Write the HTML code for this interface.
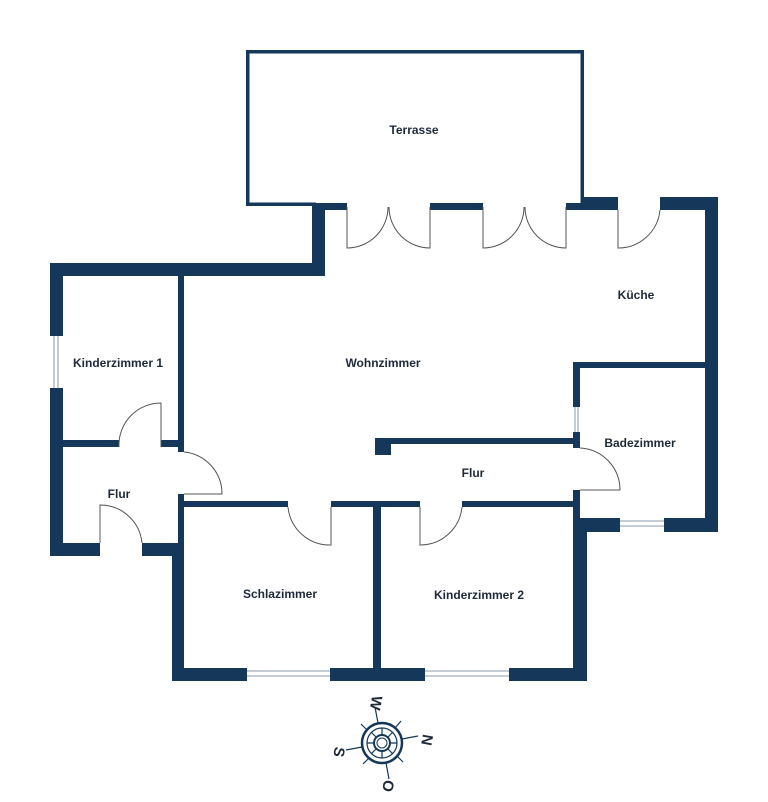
<!DOCTYPE html>
<html><head><meta charset="utf-8"><style>
html,body{margin:0;padding:0;background:#fff;}
svg{display:block;}
text{font-family:"Liberation Sans",sans-serif;font-weight:bold;font-size:12px;fill:#1e2a3a;text-anchor:middle;}
</style></head><body>
<svg width="768" height="802" viewBox="0 0 768 802" xmlns="http://www.w3.org/2000/svg">
<g fill="#15385a">
<rect x="246" y="50" width="338" height="3.5"/>
<rect x="246" y="50" width="3.5" height="156"/>
<rect x="580.5" y="50" width="3.5" height="156"/>
<rect x="246" y="202.5" width="70" height="3.5"/>
<rect x="312" y="203" width="35" height="7"/>
<rect x="312" y="203" width="13" height="73"/>
<rect x="430" y="203" width="53" height="7"/>
<rect x="566" y="203" width="52" height="7"/>
<rect x="581" y="197" width="37" height="13"/>
<rect x="660" y="197" width="58" height="13"/>
<rect x="705" y="197" width="13" height="335"/>
<rect x="50" y="263" width="275" height="13"/>
<rect x="50" y="263" width="13" height="73"/>
<rect x="50" y="388" width="13" height="168"/>
<rect x="178" y="276" width="6" height="176"/>
<rect x="178" y="494" width="6" height="62"/>
<rect x="63" y="440" width="56" height="7"/>
<rect x="161" y="440" width="17" height="7"/>
<rect x="50" y="543" width="50" height="13"/>
<rect x="142" y="543" width="42" height="13"/>
<rect x="172" y="543" width="12" height="138"/>
<rect x="184" y="501" width="104" height="6"/>
<rect x="331" y="501" width="89" height="6"/>
<rect x="462" y="501" width="118" height="6"/>
<rect x="373" y="501" width="8" height="180"/>
<rect x="172" y="668" width="75" height="13"/>
<rect x="330" y="668" width="95" height="13"/>
<rect x="509" y="668" width="78" height="13"/>
<rect x="573" y="490" width="7" height="42"/>
<rect x="573" y="522" width="14" height="159"/>
<rect x="580" y="518" width="40" height="14"/>
<rect x="664" y="518" width="54" height="14"/>
<rect x="573" y="362" width="132" height="6"/>
<rect x="573" y="362" width="7" height="45"/>
<rect x="573" y="432" width="7" height="16"/>
<rect x="375" y="438" width="205" height="6"/>
<rect x="375" y="438" width="16" height="17"/>
</g>
<g fill="none" stroke="#8a9aab" stroke-width="1">
<path d="M54 336V388M58 336V388"/>
<path d="M247 671H330M247 676H330"/>
<path d="M425 671H509M425 676H509"/>
<path d="M620 521H664M620 526H664"/>
<path d="M575 407V432M578 407V432"/>
</g>
<g fill="none" stroke="#555" stroke-width="1">
<path d="M347 207V248A41 41 0 0 0 388 207"/>
<path d="M430 207V248A41 41 0 0 1 389 207"/>
<path d="M483 207V248A41 41 0 0 0 524 207"/>
<path d="M566 207V248A41 41 0 0 1 525 207"/>
<path d="M618 210V248A42 42 0 0 0 660 210"/>
<path d="M161 447V403A42 42 0 0 0 119 447"/>
<path d="M100 543V505A42 42 0 0 1 142 543"/>
<path d="M184 452A42 42 0 0 1 222 494H184"/>
<path d="M331 507V545A42 42 0 0 1 288 507"/>
<path d="M420 507V545A42 42 0 0 0 462 507"/>
<path d="M580 448A42 42 0 0 1 620 490H580"/>
</g>
<text x="414" y="134">Terrasse</text>
<text x="636" y="299">Küche</text>
<text x="383" y="367">Wohnzimmer</text>
<text x="118" y="367">Kinderzimmer 1</text>
<text x="640" y="447">Badezimmer</text>
<text x="473" y="477">Flur</text>
<text x="119" y="498">Flur</text>
<text x="280" y="598">Schlazimmer</text>
<text x="479" y="599">Kinderzimmer 2</text>
<g transform="translate(382,743)" stroke="#15385a" fill="none">
<circle r="20" stroke-width="2.5"/>
<circle r="15" stroke-width="1.2"/>
<circle r="8" stroke-width="2"/>
<circle r="5" stroke-width="1"/>
<g stroke-width="1.2">
<path d="M-4 -20L-7 -36M20 -4L36 -7M4 20L7 36M-20 4L-36 7"/>
<path d="M13 -15L19 -22M15 13L21 19M-13 15L-19 21M-15 -13L-21 -19"/>
<path d="M0 -8V-15M8 0H15M0 8V15M-8 0H-15M6 -6L11 -11M6 6L11 11M-6 6L-11 11M-6 -6L-11 -11"/>
</g>
</g>
<g>
<text style="font-size:15px" transform="translate(376,703) rotate(100)" dy="5">W</text>
<text style="font-size:15px" transform="translate(427,740) rotate(100)" dy="5">N</text>
<text style="font-size:15px" transform="translate(388,786) rotate(100)" dy="5">O</text>
<text style="font-size:15px" transform="translate(339,752) rotate(100)" dy="5">S</text>
</g>
</svg>
</body></html>
